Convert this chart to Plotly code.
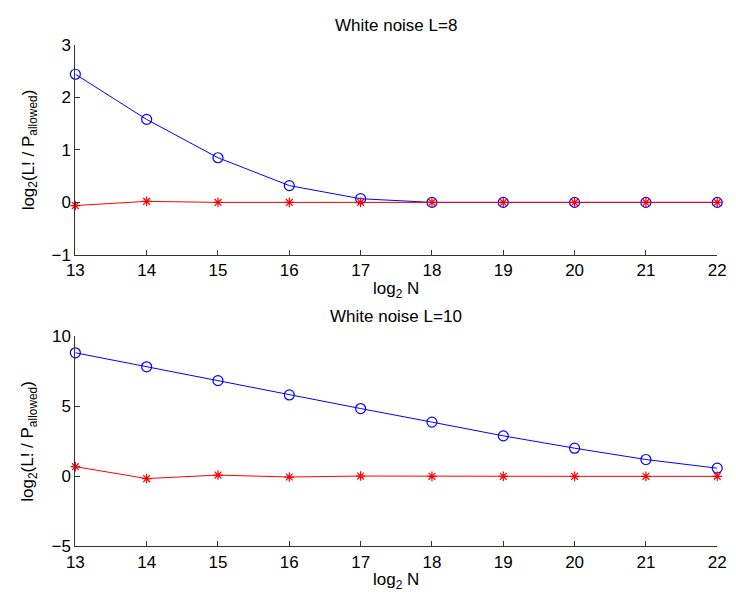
import plotly.graph_objects as go

log2N = [13, 14, 15, 16, 17, 18, 19, 20, 21, 22]

# White noise L=8
l8_blue = [2.44, 1.58, 0.85, 0.32, 0.07, 0.0, 0.0, 0.0, 0.0, 0.0]
l8_red = [-0.06, 0.02, 0.0, 0.0, 0.0, 0.0, 0.0, 0.0, 0.0, 0.0]

# White noise L=10
l10_blue = [8.82, 7.82, 6.83, 5.81, 4.84, 3.87, 2.89, 2.01, 1.20, 0.58]
l10_red = [0.69, -0.16, 0.09, -0.05, 0.02, 0.0, 0.0, 0.0, 0.0, 0.0]

titles = ["White noise L=8", "White noise L=10"]
yticks_top = [-1, 0, 1, 2, 3]
yticks_bot = [-5, 0, 5, 10]

W, H = 736, 598
FONT = "Liberation Sans, Arial, Helvetica, sans-serif"

fig = go.Figure()

def add_series(x, y, xa, ya, color, symbol, size):
    fig.add_trace(go.Scatter(
        x=x, y=y, xaxis=xa, yaxis=ya, mode="lines+markers",
        line=dict(color=color, width=1),
        marker=dict(symbol=symbol, size=size, color=color,
                    line=dict(color=color, width=1.2)),
        showlegend=False, cliponaxis=False))

add_series(log2N, l8_blue, "x", "y", "#0000ff", "circle-open", 10)
add_series(log2N, l8_red, "x", "y", "#ff0000", "asterisk-open", 8)
add_series(log2N, l10_blue, "x2", "y2", "#0000ff", "circle-open", 10)
add_series(log2N, l10_red, "x2", "y2", "#ff0000", "asterisk-open", 8)

def px_x(p):
    return p / W

def px_y(p):
    return 1 - p / H

x0, x1 = px_x(68), px_x(726)
top_dom = [px_y(254), px_y(37)]
bot_dom = [px_y(555), px_y(338)]

axis_common = dict(showgrid=False, zeroline=False, showline=True,
                   linecolor="#333333", linewidth=1, ticks="inside",
                   ticklen=5, tickcolor="#333333", tickwidth=1,
                   tickfont=dict(family=FONT, size=17, color="black"))

fig.update_layout(
    width=W, height=H,
    margin=dict(l=0, r=0, t=0, b=0),
    paper_bgcolor="white", plot_bgcolor="white",
    xaxis=dict(domain=[x0, x1], range=[13, 22], tickvals=log2N,
               anchor="y", **axis_common),
    yaxis=dict(domain=top_dom, range=[-1, 3], tickvals=yticks_top,
               anchor="x", **axis_common),
    xaxis2=dict(domain=[x0, x1], range=[13, 22], tickvals=log2N,
                anchor="y2", **axis_common),
    yaxis2=dict(domain=bot_dom, range=[-5, 10], tickvals=yticks_bot,
                anchor="x2", **axis_common),
)

xc = (x0 + x1) / 2
ann = []
for t, dom in zip(titles, [top_dom, bot_dom]):
    ann.append(dict(text=t, x=xc, y=dom[1], xref="paper", yref="paper",
                    xanchor="center", yanchor="bottom", yshift=8,
                    showarrow=False, font=dict(family=FONT, size=17, color="black")))
    ann.append(dict(text="log<sub>2</sub> N", x=xc, y=dom[0], xref="paper", yref="paper",
                    xanchor="center", yanchor="top", yshift=-22,
                    showarrow=False, font=dict(family=FONT, size=17, color="black")))
    ann.append(dict(text="log<sub>2</sub>(L! / P<sub>allowed</sub>)", x=px_x(21),
                    y=(dom[0] + dom[1]) / 2, xref="paper", yref="paper",
                    xanchor="center", yanchor="middle", textangle=-90,
                    showarrow=False, font=dict(family=FONT, size=17, color="black")))
fig.update_layout(annotations=ann)

fig.write_html("out.html", config={"displayModeBar": False},
               post_script="document.body.style.margin='0';document.body.style.overflow='hidden';")
